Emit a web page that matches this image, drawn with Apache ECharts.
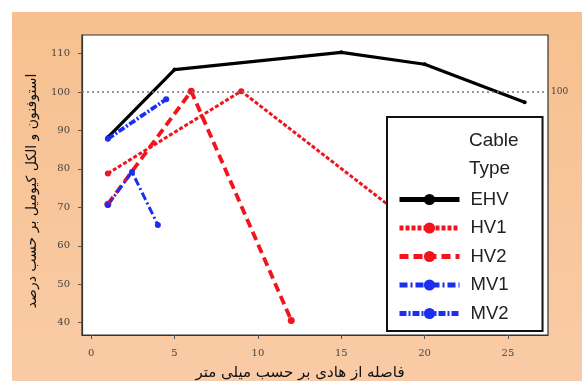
<!DOCTYPE html>
<html><head><meta charset="utf-8">
<script src="https://cdn.jsdelivr.net/npm/echarts@6/dist/echarts.min.js"></script>
<style>html,body{margin:0;padding:0;background:#fff;}#c{width:582px;height:381px;}</style>
</head><body><div id="c"></div>
<script>
const xTicks = [0, 5, 10, 15, 20, 25];
const yTicks = [40, 50, 60, 70, 80, 90, 100, 110];
const seriesNames = ['EHV', 'HV1', 'HV2', 'MV1', 'MV2'];
const ehv = [[1, 88.2], [5, 105.8], [15, 110.3], [20, 107.2], [26, 97.3]];
const hv1 = [[1, 78.8], [9, 100.2], [20, 63.3]];
const hv2 = [[1, 70.8], [6, 100.2], [12, 40.6]];
const mv1 = [[1, 70.6], [2.45, 79.2], [4, 65.4]];
const mv2 = [[1, 87.8], [4.5, 98.1]];
const refValue = 100;
const xTitle = 'فاصله از هادی بر حسب میلی متر';
const yTitle = 'استوفنون و الکل کیومیل بر حسب درصد';
const legendTitle = ['Cable', 'Type'];

const chart = echarts.init(document.getElementById('c'));
const red = '#f2141c', blue = '#1a2ff0';
function mk(name, data, color, width, type, size) {
  return { name, type: 'line', data, symbol: 'circle', symbolSize: size,
    itemStyle: { color }, lineStyle: { color, width, type }, animation: false, z: 3 };
}
const s = [
  mk('EHV', ehv, '#000', 3.2, 'solid', 4),
  mk('HV1', hv1, red, 3, [4, 2], 6),
  mk('HV2', hv2, red, 3.8, [9, 5], 7),
  mk('MV1', mv1, blue, 3, [8, 3, 2, 3], 6),
  mk('MV2', mv2, blue, 3.8, [7, 2, 2, 2], 6)
];
s[0].markLine = { silent: true, symbol: 'none', animation: false,
  lineStyle: { color: '#777', type: [2, 3], width: 1.6 },
  label: { position: 'end', distance: 3, formatter: String(refValue), fontSize: 9, color: '#444', fontFamily: 'DejaVu Serif' },
  data: [{ yAxis: refValue }] };

chart.setOption({
  backgroundColor: '#fff',
  animation: false,
  grid: { left: 82, top: 35, width: 466, height: 300, show: true, backgroundColor: '#fff', borderColor: '#333', borderWidth: 1.2 },
  xAxis: { type: 'value', min: -0.55, max: 27.4,
    axisLine: { show: true, onZero: false, lineStyle: { color: '#333', width: 1.2 } },
    axisTick: { show: true, customValues: xTicks, length: 4, lineStyle: { color: '#555' } },
    axisLabel: { customValues: xTicks, fontSize: 10, color: '#444', margin: 13, fontFamily: 'DejaVu Serif' },
    splitLine: { show: false } },
  yAxis: { type: 'value', min: 36.8, max: 114.8,
    axisLine: { show: true, onZero: false, lineStyle: { color: '#333', width: 1.2 } },
    axisTick: { show: true, customValues: yTicks, length: 4, lineStyle: { color: '#555' } },
    axisLabel: { customValues: yTicks, fontSize: 10, color: '#444', margin: 12, fontFamily: 'DejaVu Serif' },
    splitLine: { show: false } },
  legend: { data: seriesNames, orient: 'vertical', left: 387, top: 117,
    padding: [73, 34, 8, 10], itemWidth: 60, itemHeight: 14, itemGap: 9.5,
    backgroundColor: '#fff', borderColor: '#111', borderWidth: 2, z: 20,
    lineStyle: { width: 5 },
    textStyle: { fontSize: 18.5, color: '#222', fontFamily: 'Liberation Sans', lineHeight: 14, padding: [0, 0, 0, 6] } },
  graphic: [
    { type: 'rect', z: -10, silent: true, shape: { x: 12, y: 12, width: 570, height: 369 },
      style: { fill: new echarts.graphic.LinearGradient(0, 0, 0, 1, [
        { offset: 0, color: '#f7c08e' }, { offset: 1, color: '#f9cba6' }]) } },
    { type: 'text', z: 100, left: 469, top: 131, style: { text: legendTitle[0], fill: '#222', font: '19px "Liberation Sans"' } },
    { type: 'text', z: 100, left: 469, top: 159, style: { text: legendTitle[1], fill: '#222', font: '19px "Liberation Sans"' } },
    { type: 'text', z: 100, x: 300, y: 373, style: { text: xTitle, align: 'center', verticalAlign: 'middle', font: '15px "DejaVu Sans"', fill: '#111' } },
    { type: 'text', z: 100, x: 32, y: 191, rotation: Math.PI / 2, style: { text: yTitle, align: 'center', verticalAlign: 'middle', font: '14px "DejaVu Sans"', fill: '#111' } }
  ],
  series: s
});
</script></body></html>
